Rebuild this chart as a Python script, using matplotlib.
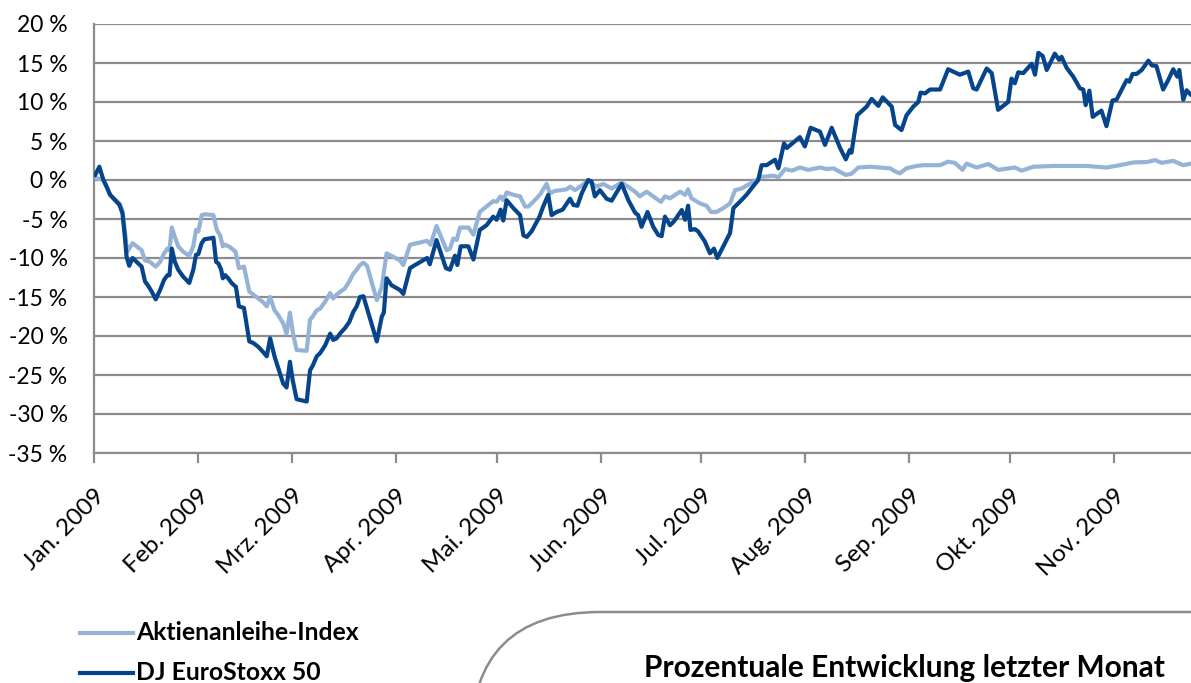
import matplotlib
matplotlib.use("Agg")
import matplotlib.pyplot as plt
from matplotlib.patches import FancyBboxPatch
from matplotlib.transforms import IdentityTransform
from matplotlib.lines import Line2D

plt.rcParams['font.family'] = ['Lato', 'DejaVu Sans']

# ---- data -------------------------------------------------------------
month_days = [0, 31, 59, 90, 120, 151, 181, 212, 243, 273, 304]
month_labels = ["Jan. 2009", "Feb. 2009", "Mrz. 2009", "Apr. 2009", "Mai. 2009",
                "Jun. 2009", "Jul. 2009", "Aug. 2009", "Sep. 2009", "Okt. 2009",
                "Nov. 2009"]
y_ticks = [20, 15, 10, 5, 0, -5, -10, -15, -20, -25, -30, -35]
series_names = ["Aktienanleihe-Index", "DJ EuroStoxx 50"]
box_title = "Prozentuale Entwicklung letzter Monat"

# days since 1 Jan 2009
stoxx_days = [0.3, 1.6, 2.8, 3.8, 4.8, 6.3, 7.6, 8.5, 9.2, 9.7,
              10.5, 11.5, 12.7, 14.2, 15.2, 16.2, 17.2, 18.4, 19.7, 20.9,
              21.9, 22.5, 23.2, 24.1, 25.1, 26.6, 28.4, 29.6, 30.4, 31.1,
              32.1, 32.9, 34.4, 35.6, 36.4, 37.1, 37.9, 38.4, 39.1, 40.0,
              41.0, 42.3, 43.2, 44.7, 46.3, 47.5, 49.0, 50.5, 51.5, 52.5,
              53.8, 54.9, 56.4, 57.4, 58.4, 59.2, 60.4, 61.4, 63.4, 64.4,
              65.2, 66.4, 67.4, 68.9, 70.4, 71.3, 72.3, 73.5, 74.8, 76.1,
              77.3, 78.3, 79.3, 80.3, 84.3, 85.8, 86.4, 87.2, 88.7, 91.2,
              92.2, 94.2, 95.7, 99.3, 100.1, 102.1, 104.9, 106.1, 107.6, 108.3,
              109.3, 111.6, 113.1, 115.0, 117.0, 119.0, 120.0, 121.2, 122.0, 123.0,
              125.0, 127.0, 128.0, 129.0, 130.4, 132.7, 133.9, 135.4, 136.4, 137.9,
              139.7, 141.9, 142.9, 144.1, 145.4, 147.3, 148.3, 149.3, 150.8, 152.8,
              154.3, 157.3, 159.3, 161.3, 162.2, 163.2, 165.0, 166.7, 168.2, 169.2,
              170.2, 171.7, 172.9, 175.2, 176.2, 177.1, 177.8, 179.1, 180.1, 182.1,
              183.6, 184.8, 185.8, 187.6, 189.6, 190.6, 192.5, 194.5, 196.5, 198.0,
              199.0, 200.5, 203.0, 204.0, 205.7, 206.5, 210.4, 211.9, 213.6, 216.4,
              217.9, 219.9, 222.4, 224.1, 225.3, 225.8, 227.5, 230.3, 231.8, 233.8,
              235.1, 237.8, 238.8, 240.7, 242.2, 244.2, 245.7, 246.4, 247.7, 249.2,
              252.2, 254.6, 258.1, 260.6, 262.1, 263.1, 266.1, 267.6, 269.5, 272.5,
              273.5, 274.5, 275.5, 277.0, 279.5, 280.5, 281.5, 282.8, 284.0, 286.4,
              287.7, 288.4, 289.9, 291.9, 293.9, 294.9, 295.6, 296.7, 297.7, 300.3,
              301.8, 303.6, 304.8, 307.8, 308.6, 309.6, 310.8, 312.3, 314.3, 315.3,
              316.7, 318.7, 320.2, 321.7, 322.9, 323.5, 324.7, 325.7, 327.0]
stoxx_vals = [0.6, 1.7, 0.0, -0.9, -1.9, -2.6, -3.2, -4.3, -7.3, -9.8,
              -11.0, -10.0, -10.5, -11.1, -13.0, -13.6, -14.3, -15.3, -14.1, -12.8,
              -12.2, -12.2, -8.8, -10.5, -11.5, -12.4, -13.2, -11.5, -9.6, -9.5,
              -8.1, -7.6, -7.5, -7.4, -10.5, -10.7, -11.5, -12.6, -12.2, -12.6,
              -13.2, -13.7, -16.2, -16.4, -20.7, -20.9, -21.4, -22.1, -22.6, -20.3,
              -22.6, -24.1, -26.1, -26.6, -23.3, -25.6, -28.1, -28.2, -28.4, -24.4,
              -23.8, -22.6, -22.2, -21.2, -19.7, -20.5, -20.3, -19.6, -19.0, -18.2,
              -16.9, -16.2, -15.0, -14.9, -20.7, -17.5, -17.0, -12.6, -13.5, -14.1,
              -14.6, -11.3, -10.9, -10.0, -10.8, -7.7, -11.3, -11.5, -9.7, -10.9,
              -8.5, -8.5, -10.2, -6.4, -5.8, -4.7, -5.1, -3.8, -5.2, -2.6,
              -3.6, -4.5, -7.1, -7.3, -6.6, -4.8, -3.4, -1.9, -4.5, -4.1,
              -3.8, -2.4, -3.2, -3.3, -1.7, 0.0, -0.2, -2.1, -1.3, -2.4,
              -2.65, -0.5, -2.6, -4.2, -4.5, -6.0, -4.1, -6.0, -7.05, -7.2,
              -4.7, -5.8, -5.3, -3.85, -5.1, -3.3, -6.4, -6.3, -6.6, -7.9,
              -9.4, -8.8, -10.0, -8.5, -6.8, -3.6, -2.8, -1.9, -0.8, 0.0,
              1.9, 1.9, 2.6, 1.5, 4.7, 4.1, 5.5, 4.3, 6.7, 6.2,
              4.5, 6.7, 4.1, 2.65, 3.85, 3.5, 8.3, 9.4, 10.4, 9.5,
              10.6, 9.4, 7.05, 6.4, 8.3, 9.4, 10.0, 11.2, 11.1, 11.6,
              11.6, 14.2, 13.5, 13.9, 11.75, 11.6, 14.3, 13.7, 9.0, 10.0,
              13.0, 12.4, 13.8, 13.7, 14.9, 13.5, 16.3, 15.9, 14.1, 16.2,
              15.4, 15.8, 14.4, 13.25, 11.75, 11.6, 9.6, 11.45, 8.1, 8.9,
              6.9, 10.2, 10.3, 12.8, 12.6, 13.6, 13.6, 14.1, 15.3, 14.7,
              14.6, 11.6, 12.8, 14.2, 13.25, 14.1, 10.3, 11.5, 10.9]

index_days = [0.3, 2.8, 3.8, 4.8, 6.3, 7.6, 8.5, 9.2, 9.9, 10.5,
              11.5, 12.7, 14.2, 15.2, 16.7, 18.4, 19.7, 20.9, 21.9, 22.5,
              23.2, 24.1, 25.1, 26.6, 28.4, 29.6, 30.4, 31.1, 32.1, 33.1,
              35.6, 36.6, 37.6, 38.4, 39.1, 40.5, 42.2, 43.2, 44.7, 46.3,
              47.5, 49.0, 50.5, 51.5, 52.5, 53.8, 54.9, 56.4, 57.4, 58.4,
              59.4, 60.4, 63.4, 64.4, 65.2, 66.4, 67.4, 68.9, 70.4, 71.3,
              72.3, 73.5, 74.8, 76.1, 77.3, 78.3, 79.3, 80.3, 81.4, 84.3,
              85.8, 87.2, 91.2, 92.2, 94.2, 96.2, 99.3, 100.3, 102.1, 105.1,
              106.1, 107.1, 108.1, 109.1, 111.6, 113.1, 115.0, 117.0, 119.0, 120.0,
              121.2, 122.0, 123.0, 125.0, 127.0, 128.5, 129.5, 130.9, 132.9, 134.9,
              135.9, 137.4, 140.9, 141.9, 143.4, 144.9, 147.3, 149.8, 151.8, 154.3,
              157.3, 161.3, 162.7, 164.7, 166.7, 169.0, 170.2, 171.7, 174.7, 176.2,
              177.1, 178.1, 180.6, 182.6, 183.9, 185.6, 187.6, 189.6, 191.1, 193.0,
              195.0, 197.5, 199.0, 202.5, 204.0, 206.0, 208.0, 210.4, 212.9, 216.4,
              218.4, 220.4, 224.1, 225.8, 227.8, 231.3, 234.3, 237.3, 238.8, 240.2,
              242.2, 245.2, 247.2, 252.2, 254.6, 256.6, 258.9, 260.1, 263.1, 266.6,
              269.5, 273.0, 274.5, 276.5, 280.0, 285.9, 295.9, 301.8, 305.8, 309.8,
              313.8, 316.3, 318.2, 321.7, 324.7, 327.0]
index_vals = [0.3, 0.0, -0.9, -1.9, -2.5, -3.0, -4.0, -6.5, -9.2, -8.8,
              -8.1, -8.5, -9.0, -10.3, -10.5, -11.1, -10.5, -9.4, -8.8, -9.0,
              -6.1, -7.3, -8.5, -9.2, -9.7, -8.5, -6.4, -6.6, -4.5, -4.4,
              -4.5, -6.4, -7.1, -8.5, -8.3, -8.6, -9.2, -11.3, -11.1, -14.3,
              -14.7, -15.2, -15.7, -16.2, -15.0, -16.7, -17.3, -18.4, -19.7, -17.0,
              -19.9, -21.8, -21.9, -17.9, -17.5, -16.7, -16.5, -15.6, -14.5, -15.2,
              -14.7, -14.3, -13.9, -13.0, -12.0, -11.5, -10.9, -10.6, -11.0, -15.4,
              -13.7, -9.4, -10.3, -10.9, -8.3, -8.1, -7.8, -8.3, -5.9, -9.0,
              -8.8, -7.5, -7.7, -6.1, -6.1, -7.0, -4.1, -3.4, -2.7, -2.8,
              -2.1, -2.6, -1.6, -1.9, -2.1, -3.4, -3.4, -2.8, -1.9, -0.5,
              -1.7, -1.4, -1.2, -0.85, -1.3, -0.85, -0.1, -0.85, -0.5, -1.1,
              -0.3, -1.5, -2.1, -1.5, -2.1, -2.8, -2.1, -2.35, -1.5, -1.9,
              -1.2, -2.35, -3.0, -3.3, -4.1, -4.1, -3.6, -3.0, -1.3, -1.1,
              -0.6, 0.0, 0.4, 0.55, 0.35, 1.4, 1.2, 1.6, 1.3, 1.6,
              1.4, 1.5, 0.65, 0.8, 1.6, 1.7, 1.6, 1.5, 1.1, 0.85,
              1.5, 1.8, 1.9, 1.9, 2.35, 2.2, 1.3, 2.1, 1.6, 2.05,
              1.3, 1.5, 1.6, 1.2, 1.7, 1.8, 1.8, 1.6, 1.9, 2.25,
              2.3, 2.55, 2.2, 2.45, 1.9, 2.1]

# ---- styling ----------------------------------------------------------
W, H = 1191, 683
LIGHT = "#95B3D7"
DARK = "#06458B"
GRID = "#8C8C8C"

fig = plt.figure(figsize=(W / 100, H / 100), dpi=100)
fig.patch.set_facecolor("white")
ax = fig.add_axes([94 / W, 1 - 453 / H, 1 - 94 / W, (453 - 24) / H])

ax.plot(index_days, index_vals, color=LIGHT, lw=3, solid_joinstyle="round",
        solid_capstyle="round", label=series_names[0], zorder=3)
ax.plot(stoxx_days, stoxx_vals, color=DARK, lw=3, solid_joinstyle="round",
        solid_capstyle="round", label=series_names[1], zorder=4)

ax.set_xlim(0, 327)
ax.set_ylim(-35, 20)
ax.set_yticks(y_ticks)
ax.set_yticklabels([f"{t} %" for t in y_ticks])
ax.yaxis.grid(True, color=GRID, lw=1.6)
ax.set_axisbelow(True)
ax.tick_params(axis="y", length=0, labelsize=16.5, pad=19)

ax.set_xticks(month_days)
ax.set_xticklabels(month_labels, rotation=45, ha="right", va="top",
                   rotation_mode="anchor")
ax.tick_params(axis="x", length=7, width=1.6, color=GRID, labelsize=17.5, pad=16)

for s in ("top", "right"):
    ax.spines[s].set_visible(False)
for s in ("left", "bottom"):
    ax.spines[s].set_color(GRID)
    ax.spines[s].set_linewidth(1.6)

# legend (manual, bottom left)
for name, col, ypix in ((series_names[0], LIGHT, 633), (series_names[1], DARK, 673)):
    fig.add_artist(Line2D([80 / W, 133 / W], [1 - ypix / H] * 2,
                          transform=fig.transFigure, color=col, lw=3))
    fig.text(136 / W, 1 - ypix / H, name, ha="left", va="center",
             fontsize=17.8, fontweight="bold", color="black")

# rounded box at bottom right
box = FancyBboxPatch((471, -400), 1000, 400 + (H - 612),
                     boxstyle="round,pad=0,rounding_size=129",
                     transform=IdentityTransform(), facecolor="none",
                     edgecolor=GRID, lw=1.8, clip_on=False)
fig.add_artist(box)
fig.text(904 / W, 1 - 677 / H, box_title, ha="center", va="baseline",
         fontsize=21.5, fontweight="bold", color="black")

fig.savefig("out.png", dpi=100, facecolor="white")
